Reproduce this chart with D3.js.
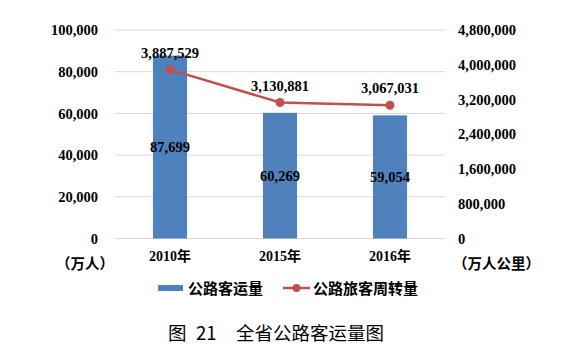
<!DOCTYPE html>
<html>
<head>
<meta charset="utf-8">
<script src="https://cdn.jsdelivr.net/npm/d3@7/dist/d3.min.js"></script>
<style>
  body { margin: 0; background: #fff; }
  svg text { font-family: "Liberation Serif", "Noto Sans CJK SC", serif; font-weight: bold; fill: #000; }
</style>
</head>
<body>
<div id="chart"></div>
<script>
// chart data
const years = ['2010年', '2015年', '2016年']
const passengers = [87699, 60269, 59054]          // 公路客运量 (万人)
const turnover = [3887529, 3130881, 3067031]      // 公路旅客周转量 (万人公里)
const leftTicks = [0, 20000, 40000, 60000, 80000, 100000]
const rightTicks = [0, 800000, 1600000, 2400000, 3200000, 4000000, 4800000]

const w = 573
const h = 364
const plotLeft = 115, plotRight = 445, plotTop = 30, plotBottom = 238.5
const numSize = '14.5px'

const svg = d3.select('#chart')
              .append('svg')
              .attr('width', w)
              .attr('height', h)

const xScale = d3.scaleBand()
                .domain(years)
                .range([plotLeft, plotRight])
                .paddingInner(0.69)
                .paddingOuter(0.345)

const yLeft = d3.scaleLinear().domain([0, 100000]).range([plotBottom, plotTop])
const yRight = d3.scaleLinear().domain([0, 4800000]).range([plotBottom, plotTop])

const fmt = d3.format(',')

// gridlines
svg.append('g')
  .selectAll('line')
  .data(leftTicks)
  .enter()
  .append('line')
    .attr('x1', plotLeft)
    .attr('x2', plotRight)
    .attr('y1', d => yLeft(d))
    .attr('y2', d => yLeft(d))
    .attr('stroke', '#d9d9d9')
    .attr('stroke-width', 1)

// left axis
const axisL = d3.axisLeft(yLeft).tickValues(leftTicks).tickFormat(fmt).tickSize(0).tickPadding(0)
svg.append('g')
  .attr('transform', `translate(98, 0)`)
  .call(axisL)
  .call(g => g.select('.domain').remove())
  .selectAll('text')
    .style('font-size', numSize)

// right axis
const axisR = d3.axisRight(yRight).tickValues(rightTicks).tickFormat(fmt).tickSize(0).tickPadding(0)
svg.append('g')
  .attr('transform', `translate(458, 0)`)
  .call(axisR)
  .call(g => g.select('.domain').remove())
  .selectAll('text')
    .style('font-size', numSize)

// x axis labels
const axisX = d3.axisBottom(xScale).tickSize(0).tickPadding(0)
svg.append('g')
  .attr('transform', `translate(0, 251)`)
  .call(axisX)
  .call(g => g.select('.domain').remove())
  .selectAll('text')
    .style('font-size', '14px')

// unit labels
svg.append('text').attr('x', 56).attr('y', 269).style('font-size', '14.5px').text('（万人）')
svg.append('text').attr('x', 453).attr('y', 269).style('font-size', '14.5px').text('（万人公里）')

// bars
svg.selectAll('rect.bar')
  .data(passengers)
  .enter()
  .append('rect')
    .attr('class', 'bar')
    .attr('x', (d, i) => xScale(years[i]))
    .attr('y', d => yLeft(d))
    .attr('width', xScale.bandwidth())
    .attr('height', d => plotBottom - yLeft(d))
    .attr('fill', '#4f81bd')

// bar labels in middle of bars
svg.selectAll('text.barlabel')
  .data(passengers)
  .enter()
  .append('text')
    .attr('class', 'barlabel')
    .attr('x', (d, i) => xScale(years[i]) + xScale.bandwidth() / 2)
    .attr('y', d => (yLeft(d) + plotBottom) / 2 + 5)
    .attr('text-anchor', 'middle')
    .style('font-size', numSize)
    .text(d => fmt(d))

// line
const cx = (d, i) => xScale(years[i]) + xScale.bandwidth() / 2
const line = d3.line()
              .x((d, i) => cx(d, i))
              .y(d => yRight(d))
svg.append('path')
  .datum(turnover)
  .attr('d', line)
  .attr('fill', 'none')
  .attr('stroke', '#c0504d')
  .attr('stroke-width', 2.5)

svg.selectAll('circle.pt')
  .data(turnover)
  .enter()
  .append('circle')
    .attr('class', 'pt')
    .attr('cx', cx)
    .attr('cy', d => yRight(d))
    .attr('r', 4.5)
    .attr('fill', '#c0504d')

svg.selectAll('text.ptlabel')
  .data(turnover)
  .enter()
  .append('text')
    .attr('class', 'ptlabel')
    .attr('x', cx)
    .attr('y', d => yRight(d) - 12)
    .attr('text-anchor', 'middle')
    .style('font-size', numSize)
    .text(d => fmt(d))

// legend
const legend = svg.append('g')
legend.append('rect').attr('x', 158).attr('y', 285).attr('width', 25).attr('height', 6).attr('fill', '#4f81bd')
legend.append('text').attr('x', 188).attr('y', 294).style('font-size', '15px').text('公路客运量')
legend.append('line').attr('x1', 283).attr('x2', 310).attr('y1', 288).attr('y2', 288)
  .attr('stroke', '#c0504d').attr('stroke-width', 2.5)
legend.append('circle').attr('cx', 296.5).attr('cy', 288).attr('r', 4).attr('fill', '#c0504d')
legend.append('text').attr('x', 313).attr('y', 294).style('font-size', '15px').text('公路旅客周转量')

// caption
const caption = svg.append('g')
  .style('font-size', '18.5px')
caption.selectAll('text')
  .data([[168, '图'], [196, '21'], [236, '全省公路客运量图']])
  .enter()
  .append('text')
    .attr('x', d => d[0])
    .attr('y', 340)
    .style('font-family', '"Noto Sans CJK SC", sans-serif')
    .style('font-weight', 'normal')
    .text(d => d[1])
</script>
</body>
</html>
